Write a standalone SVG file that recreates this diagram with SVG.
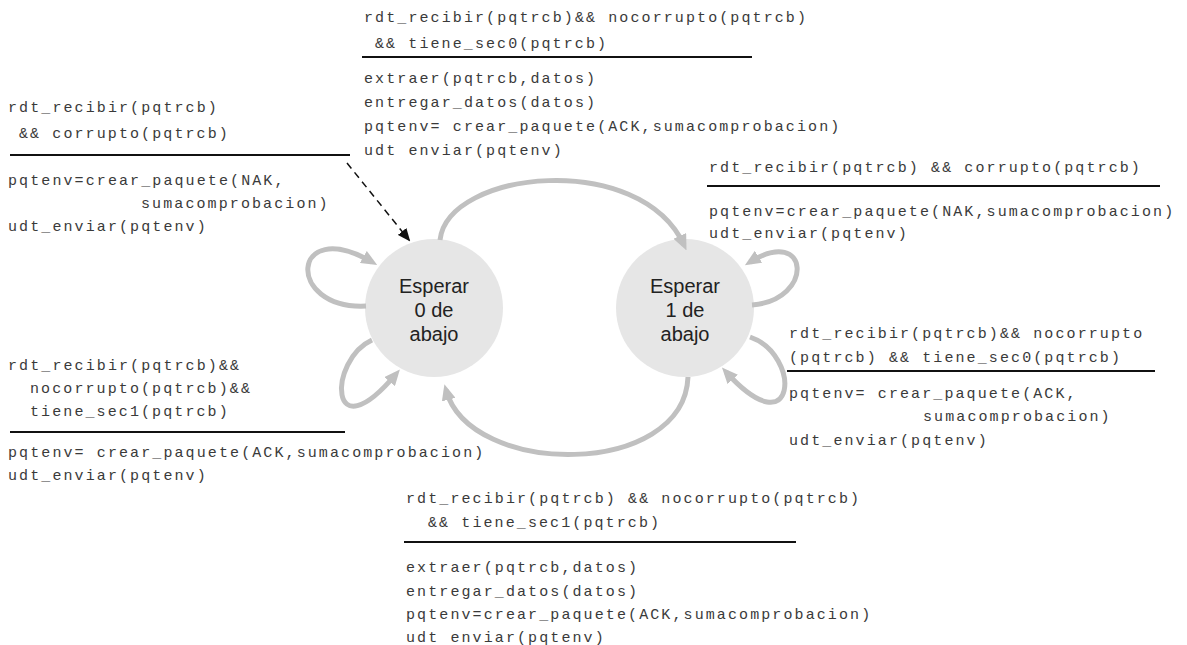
<svg xmlns="http://www.w3.org/2000/svg" width="1187" height="645" viewBox="0 0 1187 645">
<style>
.t{font-family:"Liberation Mono",monospace;font-size:15px;letter-spacing:2.1px;fill:#3a3a3a}
.n{font-family:"Liberation Sans",Arial,sans-serif;font-size:20px;fill:#222;text-anchor:middle}
.rule{stroke:#111;stroke-width:2}
.st{fill:#e6e6e6}
.arc{fill:none;stroke:#c0c0c0;stroke-width:5}
.dash{fill:none;stroke:#111;stroke-width:1.5;stroke-dasharray:7 5}
</style>
<defs>
<marker id="ga" markerUnits="userSpaceOnUse" markerWidth="16" markerHeight="14" refX="10" refY="7" orient="auto"><path d="M0,0 L16,7 L0,14 z" fill="#c0c0c0"/></marker>
<marker id="ka" markerUnits="userSpaceOnUse" markerWidth="13" markerHeight="11" refX="11" refY="5.5" orient="auto"><path d="M0,0 L13,5.5 L0,11 z" fill="#111"/></marker>
</defs>
<g id="state0">
<circle class="st" cx="434" cy="308" r="69"/>
<text class="n" x="434" y="293">Esperar</text>
<text class="n" x="434" y="317">0 de</text>
<text class="n" x="434" y="341">abajo</text>
</g>
<g id="state1">
<circle class="st" cx="685" cy="308" r="69"/>
<text class="n" x="685" y="293">Esperar</text>
<text class="n" x="685" y="317">1 de</text>
<text class="n" x="685" y="341">abajo</text>
</g>
<g id="connectors">
<path class="arc" d="M440 240 C448 170 640 150 684 245" marker-end="url(#ga)"/>
<path class="arc" d="M688 377 C684 478 470 478 446 390" marker-end="url(#ga)"/>
<path class="arc" d="M366 306 C285 310 290 215 372 262" marker-end="url(#ga)"/>
<path class="arc" d="M372 340 C328 360 328 455 396 374" marker-end="url(#ga)"/>
<path class="arc" d="M752 305 C815 300 810 225 750 262" marker-end="url(#ga)"/>
<path class="arc" d="M750 337 C802 355 797 450 726 372" marker-end="url(#ga)"/>
<path class="dash" d="M347 163 L409 240" marker-end="url(#ka)"/>
</g>
<g id="label-top">
<text class="t" x="364" y="22">rdt_recibir(pqtrcb)&amp;&amp; nocorrupto(pqtrcb)</text>
<text class="t" x="375" y="48">&amp;&amp; tiene_sec0(pqtrcb)</text>
<line class="rule" x1="362" y1="57" x2="752" y2="57"/>
<text class="t" x="364" y="83">extraer(pqtrcb,datos)</text>
<text class="t" x="364" y="107">entregar_datos(datos)</text>
<text class="t" x="364" y="131">pqtenv= crear_paquete(ACK,sumacomprobacion)</text>
<text class="t" x="364" y="155">udt enviar(pqtenv)</text>
</g>
<g id="label-left-top">
<text class="t" x="8" y="112">rdt_recibir(pqtrcb)</text>
<text class="t" x="19" y="138">&amp;&amp; corrupto(pqtrcb)</text>
<line class="rule" x1="10" y1="155" x2="350" y2="155"/>
<text class="t" x="8" y="185">pqtenv=crear_paquete(NAK,</text>
<text class="t" x="141" y="208">sumacomprobacion)</text>
<text class="t" x="8" y="231">udt_enviar(pqtenv)</text>
</g>
<g id="label-right-top">
<text class="t" x="709" y="172">rdt_recibir(pqtrcb) &amp;&amp; corrupto(pqtrcb)</text>
<line class="rule" x1="707" y1="186" x2="1160" y2="186"/>
<text class="t" x="709" y="216">pqtenv=crear_paquete(NAK,sumacomprobacion)</text>
<text class="t" x="709" y="238">udt_enviar(pqtenv)</text>
</g>
<g id="label-right-bottom">
<text class="t" x="789" y="338">rdt_recibir(pqtrcb)&amp;&amp; nocorrupto</text>
<text class="t" x="789" y="362">(pqtrcb) &amp;&amp; tiene_sec0(pqtrcb)</text>
<line class="rule" x1="787" y1="371" x2="1155" y2="371"/>
<text class="t" x="789" y="398">pqtenv= crear_paquete(ACK,</text>
<text class="t" x="923" y="421">sumacomprobacion)</text>
<text class="t" x="789" y="445">udt_enviar(pqtenv)</text>
</g>
<g id="label-left-bottom">
<text class="t" x="8" y="370">rdt_recibir(pqtrcb)&amp;&amp;</text>
<text class="t" x="30" y="393">nocorrupto(pqtrcb)&amp;&amp;</text>
<text class="t" x="30" y="416">tiene_sec1(pqtrcb)</text>
<line class="rule" x1="10" y1="432" x2="345" y2="432"/>
<text class="t" x="8" y="457">pqtenv= crear_paquete(ACK,sumacomprobacion)</text>
<text class="t" x="8" y="480">udt_enviar(pqtenv)</text>
</g>
<g id="label-bottom">
<text class="t" x="406" y="503">rdt_recibir(pqtrcb) &amp;&amp; nocorrupto(pqtrcb)</text>
<text class="t" x="428" y="527">&amp;&amp; tiene_sec1(pqtrcb)</text>
<line class="rule" x1="404" y1="542" x2="796" y2="542"/>
<text class="t" x="406" y="572">extraer(pqtrcb,datos)</text>
<text class="t" x="406" y="596">entregar_datos(datos)</text>
<text class="t" x="406" y="619">pqtenv=crear_paquete(ACK,sumacomprobacion)</text>
<text class="t" x="406" y="642">udt enviar(pqtenv)</text>
</g>
</svg>
